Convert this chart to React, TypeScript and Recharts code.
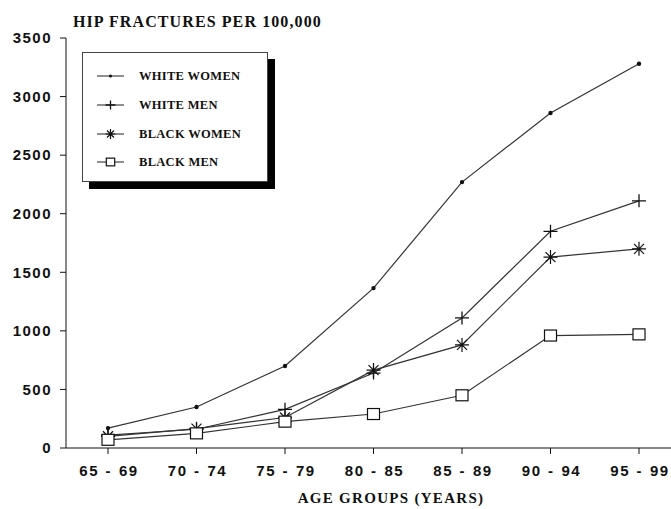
import { LineChart, Line, XAxis, YAxis, Legend } from 'recharts'

const ageGroups = ['65 - 69', '70 - 74', '75 - 79', '80 - 85', '85 - 89', '90 - 94', '95 - 99']
const whiteWomen = [170, 350, 700, 1365, 2270, 2860, 3280]
const whiteMen = [110, 160, 330, 640, 1110, 1850, 2110]
const blackWomen = [100, 165, 260, 665, 880, 1630, 1700]
const blackMen = [70, 125, 225, 290, 450, 960, 970]
const yTicks = [0, 500, 1000, 1500, 2000, 2500, 3000, 3500]

const data = ageGroups.map((age, i) => ({
  age,
  whiteWomen: whiteWomen[i],
  whiteMen: whiteMen[i],
  blackWomen: blackWomen[i],
  blackMen: blackMen[i],
}))

const INK = '#111'
const LINE = '#333'
const SANS = '"Liberation Sans", Arial, sans-serif'
const SERIF = '"Liberation Serif", "Times New Roman", serif'

// marker shapes, drawn around (cx, cy); s scales them down for the legend
function marker(kind: string, cx: number, cy: number, s = 1) {
  if (kind === 'dot') return <circle cx={cx} cy={cy} r={2.2 * s} fill={INK} />
  if (kind === 'plus')
    return (
      <path
        d={`M${cx - 7 * s},${cy}H${cx + 7 * s}M${cx},${cy - 6.5 * s}V${cy + 6.5 * s}`}
        stroke={INK}
        strokeWidth={1.3}
        fill="none"
      />
    )
  if (kind === 'star')
    return (
      <path
        d={`M${cx - 7 * s},${cy}H${cx + 7 * s}M${cx},${cy - 7 * s}V${cy + 7 * s}M${cx - 5 * s},${cy - 5 * s}L${cx + 5 * s},${cy + 5 * s}M${cx - 5 * s},${cy + 5 * s}L${cx + 5 * s},${cy - 5 * s}`}
        stroke={INK}
        strokeWidth={1.2}
        fill="none"
      />
    )
  return (
    <rect x={cx - 6 * s} y={cy - 5.5 * s} width={12 * s} height={11 * s} stroke={INK} strokeWidth={1.2} fill="#fff" />
  )
}

const seriesDefs = [
  { key: 'whiteWomen', name: 'WHITE WOMEN', kind: 'dot' },
  { key: 'whiteMen', name: 'WHITE MEN', kind: 'plus' },
  { key: 'blackWomen', name: 'BLACK WOMEN', kind: 'star' },
  { key: 'blackMen', name: 'BLACK MEN', kind: 'square' },
]

const makeDot = (kind: string) => (props: any) => {
  const { cx, cy, index } = props
  if (cx == null || cy == null) return <g key={index} />
  return <g key={`${kind}-${index}`}>{marker(kind, cx, cy)}</g>
}

function XTick({ x, y, payload }: any) {
  const [a, b] = String(payload.value).split(' - ')
  const style = { fontFamily: SANS, fontSize: 15, fontWeight: 700, fill: INK, letterSpacing: 1.5 }
  return (
    <g transform={`translate(${x},${y + 20})`}>
      <text x={-9} textAnchor="end" style={style}>{a}</text>
      <text x={0} textAnchor="middle" style={{ ...style, letterSpacing: 0 }}>-</text>
      <text x={11} textAnchor="start" style={style}>{b}</text>
    </g>
  )
}

function LegendBox() {
  return (
    <div
      style={{
        width: 184,
        height: 128,
        border: '1px solid #444',
        background: '#fff',
        boxShadow: '7px 7px 0 #000',
        position: 'relative',
      }}
    >
      {seriesDefs.map((s, i) => {
        const top = 23 + i * 28.8
        return (
          <div key={s.key} style={{ position: 'absolute', left: 0, top: top - 8, height: 16, width: 184 }}>
            <svg width={50} height={16} style={{ position: 'absolute', left: 0, top: 0 }}>
              <line x1={14} y1={8} x2={41} y2={8} stroke={LINE} strokeWidth={1.1} />
              {marker(s.kind, 27.5, 8, 0.7)}
            </svg>
            <span
              style={{
                position: 'absolute',
                left: 56,
                top: 0,
                lineHeight: '16px',
                fontFamily: SERIF,
                fontSize: 12.5,
                fontWeight: 700,
                letterSpacing: 0.3,
                color: INK,
                whiteSpace: 'nowrap',
              }}
            >
              {s.name}
            </span>
          </div>
        )
      })}
    </div>
  )
}

export default function App() {
  return (
    <div style={{ position: 'absolute', left: 0, top: 0, width: 671, height: 509, background: '#fff' }}>
      <LineChart width={671} height={509} data={data} margin={{ top: 38, right: 0, left: 0, bottom: 21 }}>
        <XAxis
          dataKey="age"
          height={40}
          padding={{ left: 42, right: 32 }}
          stroke={INK}
          tickSize={6}
          tick={<XTick />}
          interval={0}
        />
        <YAxis
          width={66}
          domain={[0, 3500]}
          ticks={yTicks}
          interval={0}
          stroke={INK}
          tickSize={6}
          tickMargin={8}
          tick={{ fontFamily: SANS, fontSize: 15, fontWeight: 700, fill: INK, letterSpacing: 1.5 }}
        />
        <Legend
          layout="vertical"
          align="center"
          verticalAlign="middle"
          wrapperStyle={{ left: 82, top: 52, width: 'auto' }}
          content={() => <LegendBox />}
        />
        {seriesDefs.map((s) => (
          <Line
            key={s.key}
            dataKey={s.key}
            name={s.name}
            type="linear"
            stroke={LINE}
            strokeWidth={1.2}
            dot={makeDot(s.kind)}
            activeDot={false}
            isAnimationActive={false}
          />
        ))}
      </LineChart>
      <svg width={671} height={509} style={{ position: 'absolute', left: 0, top: 0, pointerEvents: 'none' }}>
        <text x={73} y={27} style={{ fontFamily: SERIF, fontSize: 16, fontWeight: 700, letterSpacing: 1.1, fill: INK }}>
          HIP FRACTURES PER 100,000
        </text>
        <text
          x={391}
          y={503}
          textAnchor="middle"
          style={{ fontFamily: SERIF, fontSize: 15, fontWeight: 700, letterSpacing: 1.3, fill: INK }}
        >
          AGE GROUPS (YEARS)
        </text>
      </svg>
    </div>
  )
}
